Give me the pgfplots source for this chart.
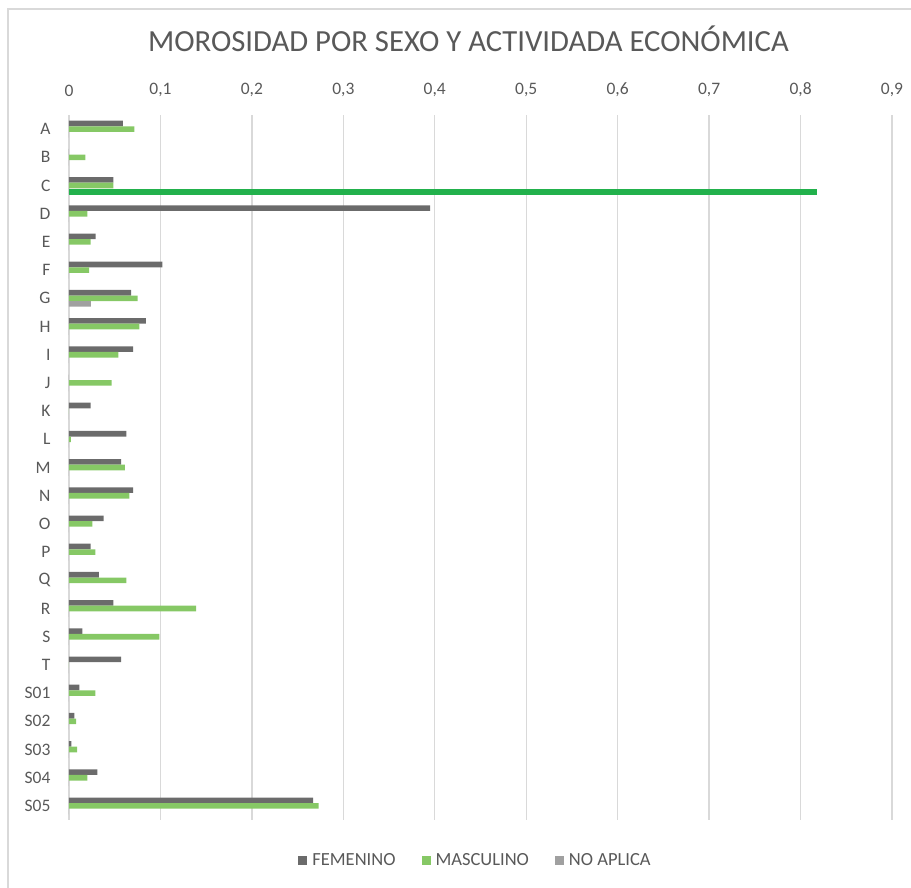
\documentclass[border=0pt]{standalone}
\usepackage{pgfplots}
\pgfplotsset{compat=1.18}
\usepackage{fontspec}
\setmainfont{Carlito}
\definecolor{fem}{HTML}{6B6B6B}
\definecolor{mas}{HTML}{86C865}
\definecolor{noap}{HTML}{A0A0A0}
\definecolor{hil}{HTML}{22B14C}
\definecolor{txt}{HTML}{595959}
\definecolor{grd}{HTML}{D9D9D9}
\begin{document}
\begin{tikzpicture}
\begin{axis}[
  scale only axis,
  width=823pt, height=705pt,
  xbar, y dir=reverse,
  xmin=0, xmax=0.9,
  ymin=-0.5, ymax=24.5,
  xtick={0,0.1,0.2,0.3,0.4,0.5,0.6,0.7,0.8,0.9},
  xticklabel pos=top,
  ytick={0,...,24},
  yticklabels={A,B,C,D,E,F,G,H,I,J,K,L,M,N,O,P,Q,R,S,T,S01,S02,S03,S04,S05},
  major tick length=0pt,
  axis line style={draw=none},
  xmajorgrids, grid style={grd, line width=1.3pt},
  /pgf/number format/use comma,
  /pgf/number format/assume math mode=true,
  tick label style={font=\fontsize{17.5}{20}\selectfont, text=txt},
  xticklabel style={yshift=15pt},
  yticklabel style={xshift=-15pt},
  bar width=5.6pt,
  title={MOROSIDAD POR SEXO Y ACTIVIDADA ECONÓMICA},
  title style={font=\fontsize{30.7}{34}\selectfont, text=txt, at={(0.5,1)}, anchor=center, yshift=70pt, xshift=-12pt},
  legend style={at={(0.5,0)}, anchor=center, yshift=-40pt, xshift=-5pt, draw=none, font=\fontsize{18.5}{20}\selectfont, text=txt, legend columns=3, /tikz/every odd column/.append style={column sep=3pt}, /tikz/every even column/.append style={column sep=24pt}},
  legend image code/.code={\fill[#1,draw=none] (0pt,-4.5pt) rectangle (9pt,4.5pt);},
]
\addplot[fill=fem, draw=none, bar shift=5.6pt] coordinates {
(0.059,0) (0,1) (0.0485,2) (0.395,3) (0.029,4) (0.102,5) (0.068,6) (0.084,7) (0.070,8) (0,9) (0.0237,10) (0.0627,11) (0.057,12) (0.070,13) (0.038,14) (0.0237,15) (0.0328,16) (0.0485,17) (0.0146,18) (0.057,19) (0.0113,20) (0.0058,21) (0.0026,22) (0.031,23) (0.267,24)};
\addlegendentry{FEMENINO}
\addplot[fill=mas, draw=none, bar shift=0pt] coordinates {
(0.0715,0) (0.018,1) (0.0485,2) (0.020,3) (0.0237,4) (0.022,5) (0.075,6) (0.077,7) (0.054,8) (0.0467,9) (0,10) (0.002,11) (0.061,12) (0.066,13) (0.0255,14) (0.0288,15) (0.0627,16) (0.139,17) (0.0988,18) (0,19) (0.0288,20) (0.0077,21) (0.009,22) (0.020,23) (0.273,24)};
\addlegendentry{MASCULINO}
\addplot[fill=noap, draw=none, bar shift=-5.6pt] coordinates {
(0,0) (0,1) (0,2) (0,3) (0,4) (0,5) (0.024,6) (0,7) (0,8) (0,9) (0,10) (0,11) (0,12) (0,13) (0,14) (0,15) (0,16) (0,17) (0,18) (0,19) (0,20) (0,21) (0,22) (0,23) (0,24)};
\addlegendentry{NO APLICA}
\addplot[fill=hil, draw=none, bar shift=-6.5pt, bar width=6.7pt, forget plot] coordinates {(0.818,2)};
\end{axis}
\useasboundingbox ([xshift=-69pt,yshift=-68pt]current axis.south west) rectangle ([xshift=19pt,yshift=115pt]current axis.north east);
\draw[grd, line width=1.3pt] ([xshift=-61pt,yshift=-68pt]current axis.south west) -- ([xshift=-61pt,yshift=106pt]current axis.south west |- current axis.north east) -- ([xshift=19pt,yshift=106pt]current axis.north east);
\end{tikzpicture}
\end{document}
